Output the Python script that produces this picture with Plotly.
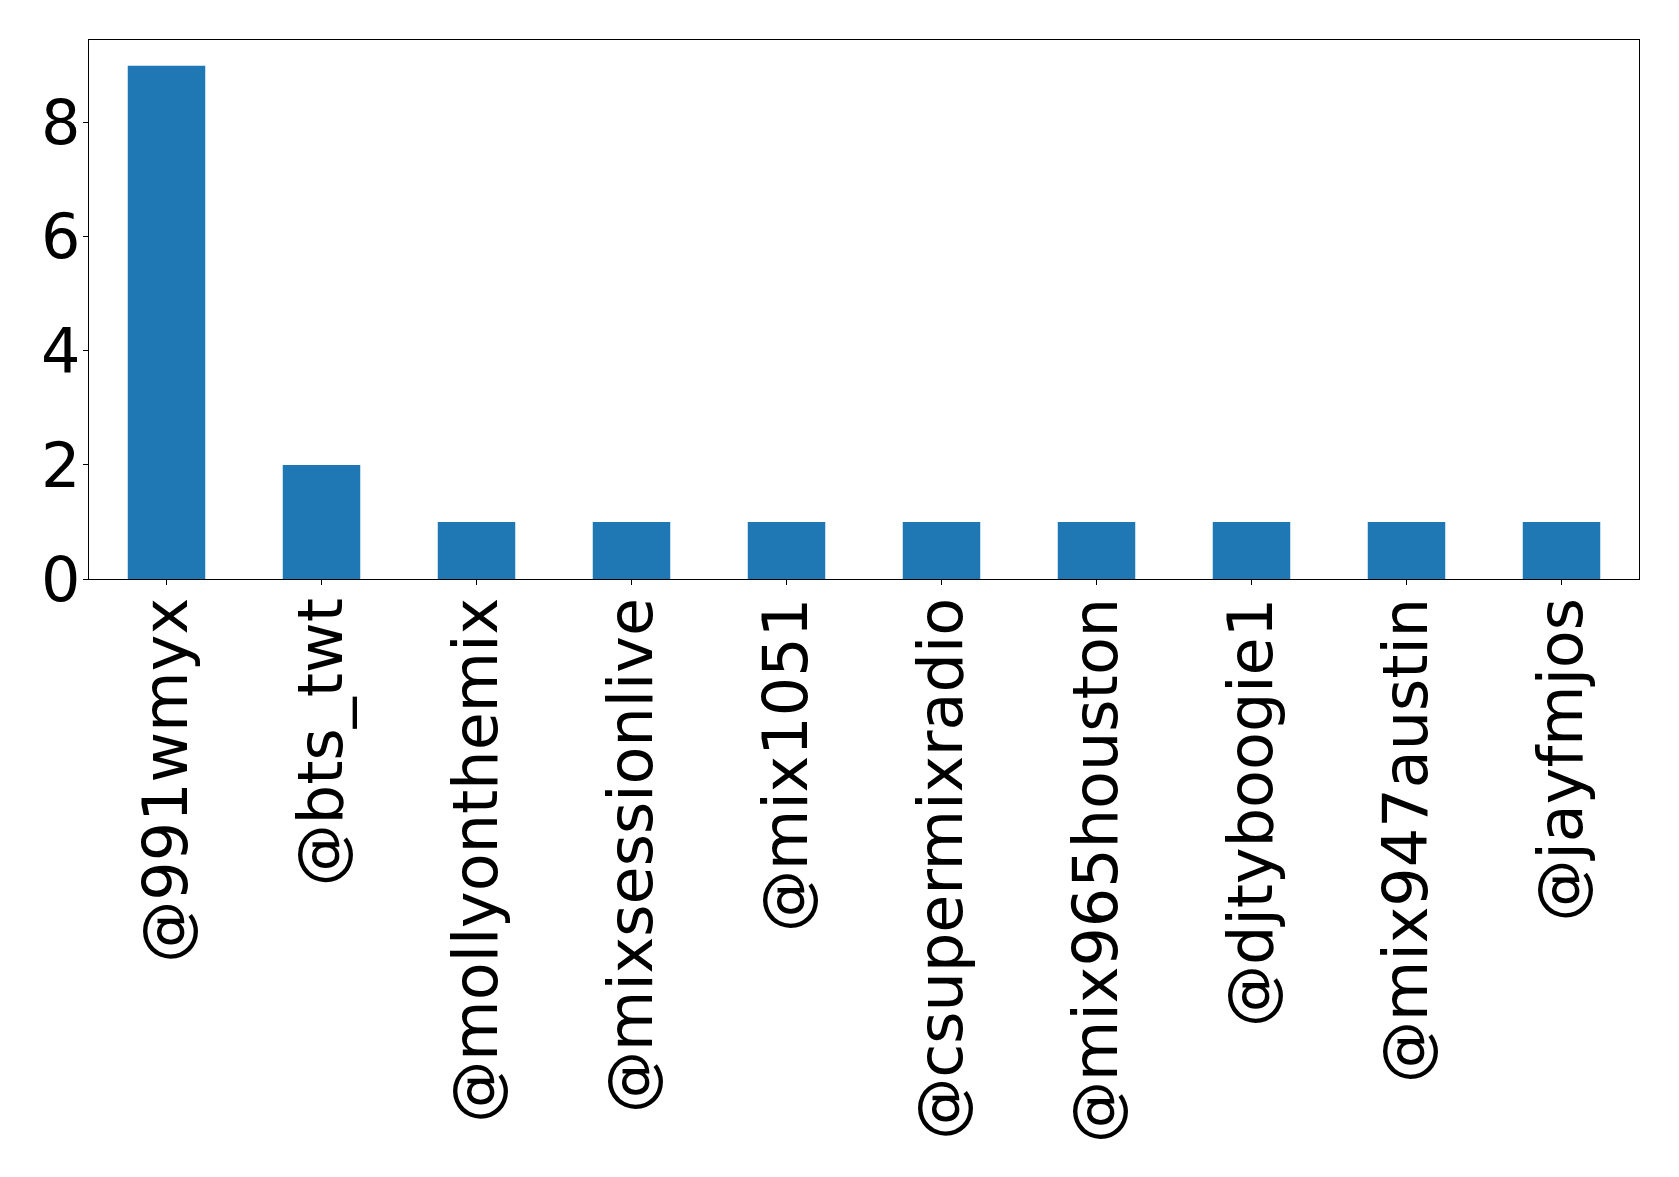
import plotly.graph_objects as go

categories = ["@991wmyx", "@bts_twt", "@mollyonthemix", "@mixsessionlive", "@mix1051",
              "@csupermixradio", "@mix965houston", "@djtyboogie1", "@mix947austin", "@jayfmjos"]
counts = [9, 2, 1, 1, 1, 1, 1, 1, 1, 1]
y_ticks = [0, 2, 4, 6, 8]

fig = go.Figure(go.Bar(x=categories, y=counts, marker_color="#1f77b4", marker_line_width=0, width=0.5))

font = dict(family="DejaVu Sans", size=62, color="black")
fig.update_layout(
    width=1679, height=1177,
    margin=dict(l=89, r=40, t=40, b=598, autoexpand=False),
    plot_bgcolor="white", paper_bgcolor="white",
    showlegend=False,
    font=font,
)
fig.update_xaxes(
    range=[-0.5, 9.5], tickangle=-90, showgrid=False, zeroline=False,
    showline=True, linecolor="black", linewidth=1.2, mirror=True,
    ticks="outside", ticklen=5, tickcolor="black", tickfont=font, automargin=False,
    ticklabelstandoff=-12,
)
fig.update_yaxes(
    range=[0, 9.45], tickvals=y_ticks, showgrid=False, zeroline=False,
    showline=True, linecolor="black", linewidth=1.2, mirror=True,
    ticks="outside", ticklen=5, tickcolor="black", tickfont=font, automargin=False,
    ticklabelstandoff=-10,
)
fig.write_html("out.html")
